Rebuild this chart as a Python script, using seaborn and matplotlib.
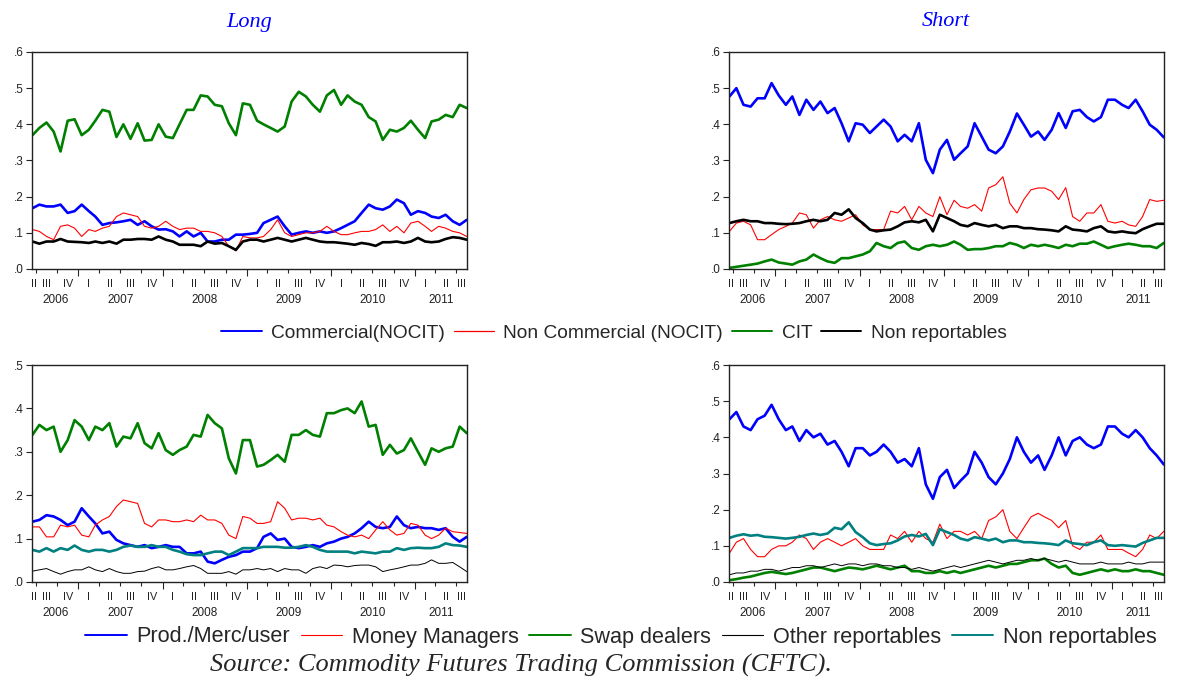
import numpy as np
import pandas as pd
import seaborn as sns
import matplotlib.pyplot as plt
import matplotlib.dates as mdates
from matplotlib.lines import Line2D
from matplotlib.ticker import FuncFormatter

sns.set_style('white')
plt.rcParams['font.family'] = ['Liberation Sans', 'DejaVu Sans']

# monthly readings, Jun 2006 .. Aug 2011
dates = pd.date_range('2006-06-01', '2011-08-01', freq='MS') + pd.Timedelta(days=14)

# top-left: long positions (commercial / non commercial / CIT)
tl_comm = [.168, .178, .173, .173, .178, .155, .16,
           .178, .16, .145, .122, .127, .129, .132, .136, .122, .132, .118, .109,
           .11, .104, .09, .104, .09, .10, .076, .076, .081, .081, .095, .095,
           .097, .10, .127, .136, .145, .118, .095, .10, .104, .10, .104, .10,
           .104, .113, .122, .132, .155, .178, .168, .164, .173, .192, .182, .15,
           .16, .155, .145, .141, .15, .132, .122, .136]
tl_noncomm = [.109, .104, .09, .081, .118, .122, .113,
              .09, .109, .104, .113, .118, .145, .155, .15, .145, .118, .113, .118,
              .132, .118, .109, .113, .113, .104, .104, .10, .09, .063, .05, .09,
              .086, .086, .09, .109, .136, .10, .09, .095, .10, .10, .104, .118,
              .104, .095, .095, .10, .104, .104, .109, .122, .104, .118, .10, .127,
              .132, .118, .104, .118, .113, .104, .10, .09]
tl_cit = [.37, .39, .405, .38, .325, .41, .414,
          .37, .385, .41, .44, .435, .365, .40, .36, .403, .355, .357, .40,
          .366, .362, .40, .44, .44, .48, .477, .454, .45, .403, .37, .458,
          .454, .41, .40, .39, .38, .394, .463, .49, .477, .454, .435, .48,
          .495, .454, .48, .463, .454, .42, .408, .357, .385, .38, .39, .41,
          .385, .362, .408, .413, .426, .42, .454, .445]
tl_nonrep = [.076, .07, .076, .076, .083, .076, .075,
             .074, .072, .076, .072, .076, .07, .081, .081, .083, .083, .081, .09,
             .081, .076, .067, .067, .067, .063, .076, .07, .072, .063, .053, .076,
             .081, .081, .076, .081, .086, .081, .076, .081, .086, .081, .076, .074,
             .074, .072, .07, .067, .072, .069, .064, .074, .074, .076, .072, .076,
             .086, .076, .074, .076, .083, .088, .086, .081]

# top-right: short positions
tr_comm = [.477, .50, .454, .449, .472, .472, .514,
           .48, .454, .477, .426, .468, .44, .463, .431, .445, .403, .353, .403,
           .399, .376, .394, .413, .394, .353, .371, .353, .403, .302, .265, .33,
           .357, .302, .32, .339, .403, .366, .33, .32, .339, .38, .43, .399,
           .366, .38, .357, .385, .431, .39, .436, .44, .42, .408, .42, .468,
           .468, .454, .445, .468, .436, .399, .385, .364]
tr_noncomm = [.104, .127, .132, .122, .081, .081, .095,
              .109, .118, .127, .155, .15, .113, .136, .145, .136, .132, .141, .15,
              .122, .109, .109, .109, .16, .155, .173, .136, .173, .155, .145, .20,
              .15, .19, .173, .168, .178, .16, .224, .233, .255, .182, .155, .192,
              .219, .224, .224, .215, .192, .225, .145, .132, .155, .155, .178, .132,
              .127, .132, .122, .118, .145, .192, .187, .19]
tr_cit = [.003, .006, .009, .012, .015, .021, .026,
          .018, .015, .012, .021, .026, .04, .03, .021, .017, .03, .03, .035,
          .04, .049, .072, .063, .058, .072, .076, .058, .053, .063, .067, .063,
          .067, .076, .067, .053, .055, .055, .058, .063, .063, .072, .067, .058,
          .067, .063, .067, .063, .058, .067, .063, .07, .07, .076, .067, .058,
          .063, .067, .07, .067, .063, .063, .058, .072]
tr_nonrep = [.127, .132, .136, .132, .132, .127, .127,
             .125, .124, .125, .127, .132, .136, .132, .136, .155, .15, .165, .141,
             .127, .109, .104, .107, .109, .118, .129, .132, .129, .136, .104, .15,
             .141, .132, .122, .118, .127, .122, .118, .122, .113, .118, .118, .113,
             .113, .11, .109, .107, .104, .118, .109, .107, .104, .113, .118, .104,
             .101, .104, .101, .099, .11, .118, .125, .125]

# bottom-left: long positions, disaggregated
bl_prod = [.139, .143, .154, .151, .143, .131, .139,
           .17, .151, .135, .112, .116, .097, .089, .085, .081, .085, .078, .081,
           .085, .081, .081, .066, .066, .07, .047, .043, .051, .058, .062, .07,
           .07, .078, .104, .112, .097, .10, .081, .078, .081, .085, .081, .089,
           .093, .10, .104, .112, .124, .139, .127, .124, .127, .151, .131, .124,
           .127, .124, .124, .12, .124, .104, .093, .104]
bl_mm = [.127, .127, .104, .104, .131, .127, .131,
         .108, .104, .131, .143, .151, .174, .189, .185, .181, .135, .127, .143,
         .143, .139, .139, .143, .139, .154, .143, .143, .135, .108, .10, .151,
         .147, .135, .135, .139, .185, .17, .143, .147, .147, .143, .147, .131,
         .127, .116, .108, .104, .108, .10, .12, .139, .12, .108, .112, .135,
         .131, .108, .10, .108, .124, .116, .114, .112]
bl_swap = [.339, .362, .35, .358, .30, .327, .373,
           .358, .327, .358, .35, .366, .312, .335, .331, .366, .32, .308, .343,
           .304, .293, .304, .312, .339, .335, .385, .366, .354, .285, .25, .327,
           .327, .266, .27, .281, .293, .277, .339, .339, .35, .339, .335, .389,
           .389, .396, .40, .389, .416, .358, .362, .293, .316, .296, .304, .331,
           .30, .27, .308, .30, .308, .312, .358, .343]
bl_other = [.025, .028, .031, .024, .018, .024, .028,
            .028, .035, .028, .024, .031, .024, .02, .02, .024, .025, .031, .035,
            .028, .028, .031, .035, .038, .031, .02, .02, .02, .024, .018, .028,
            .028, .031, .028, .031, .024, .031, .028, .028, .02, .031, .035, .031,
            .039, .038, .035, .038, .039, .039, .035, .024, .028, .031, .035, .039,
            .039, .043, .051, .043, .043, .045, .035, .024]
bl_nonrep = [.074, .07, .078, .07, .078, .074, .084,
             .074, .07, .074, .074, .07, .074, .081, .084, .081, .081, .085, .081,
             .081, .074, .07, .064, .062, .062, .066, .07, .07, .062, .07, .078,
             .078, .078, .081, .081, .081, .079, .079, .081, .085, .081, .074, .07,
             .07, .07, .07, .066, .07, .068, .066, .07, .07, .078, .074, .078,
             .079, .078, .078, .081, .089, .085, .084, .081]

# bottom-right: short positions, disaggregated
br_prod = [.45, .47, .43, .42, .45, .46, .49,
           .45, .42, .43, .39, .42, .40, .41, .38, .39, .36, .32, .37,
           .37, .35, .36, .38, .36, .33, .34, .32, .37, .27, .23, .29,
           .31, .26, .28, .30, .36, .33, .29, .27, .30, .34, .40, .36,
           .33, .35, .31, .35, .40, .35, .39, .40, .38, .37, .38, .43,
           .43, .41, .40, .42, .40, .37, .35, .325]
br_mm = [.08, .11, .12, .09, .07, .07, .09,
         .10, .10, .11, .13, .12, .09, .11, .12, .11, .10, .11, .12,
         .10, .09, .09, .09, .13, .12, .14, .11, .14, .12, .11, .16,
         .12, .14, .14, .13, .14, .12, .17, .18, .20, .14, .12, .15,
         .18, .19, .18, .17, .15, .17, .10, .09, .11, .11, .13, .09,
         .09, .09, .08, .07, .09, .13, .12, .14]
br_swap = [.005, .008, .012, .015, .02, .025, .028,
           .025, .022, .025, .03, .035, .04, .04, .035, .03, .035, .04, .038,
           .035, .04, .045, .04, .035, .04, .045, .03, .03, .025, .025, .03,
           .025, .03, .025, .03, .035, .04, .045, .04, .045, .05, .05, .055,
           .06, .06, .065, .05, .04, .045, .025, .02, .025, .03, .035, .03,
           .035, .03, .03, .035, .03, .03, .025, .02]
br_other = [.02, .025, .025, .03, .03, .035, .035,
            .03, .035, .04, .04, .045, .045, .04, .045, .05, .045, .05, .05,
            .045, .05, .05, .045, .045, .04, .04, .035, .04, .035, .03, .035,
            .04, .045, .04, .045, .05, .055, .06, .055, .05, .055, .06, .06,
            .065, .06, .065, .06, .055, .06, .055, .05, .05, .05, .055, .05,
            .05, .05, .055, .05, .05, .055, .055, .055]
br_nonrep = [.122, .128, .132, .128, .13, .125, .124,
             .122, .12, .122, .125, .13, .134, .13, .134, .15, .146, .165, .138,
             .124, .107, .102, .105, .107, .115, .126, .13, .126, .133, .102, .146,
             .138, .13, .12, .115, .124, .12, .115, .12, .11, .115, .115, .11,
             .11, .108, .107, .105, .102, .115, .107, .105, .102, .11, .115, .102,
             .1, .102, .1, .098, .108, .115, .122, .122]

top_names = ['Commercial(NOCIT)', 'Non Commercial (NOCIT)', 'CIT', 'Non reportables']
bot_names = ['Prod./Merc/user', 'Money Managers', 'Swap dealers',
             'Other reportables', 'Non reportables']
top_colors = ['#0000ff', '#ff0000', '#008000', '#000000']
bot_colors = ['#0000ff', '#ff0000', '#008000', '#000000', '#008080']
top_widths = [1.9, 0.8, 1.9, 1.9]
bot_widths = [1.9, 0.8, 1.9, 0.7, 1.9]

xmin = pd.Timestamp('2006-06-13')
xmax = pd.Timestamp('2011-08-16')
W, H = 1177, 680
fig = plt.figure(figsize=(W / 100, H / 100), dpi=100)


def panel(rect, names, colors, widths, values, ymax):
    ax = fig.add_axes([rect[0] / W, 1 - rect[3] / H,
                       (rect[2] - rect[0]) / W, (rect[3] - rect[1]) / H])
    df = pd.concat([pd.DataFrame({'date': dates, 'value': v, 'series': n})
                    for n, v in zip(names, values)])
    sns.lineplot(data=df, x='date', y='value', hue='series', size='series',
                 hue_order=names, size_order=names,
                 palette=dict(zip(names, colors)), sizes=dict(zip(names, widths)),
                 estimator=None, legend=False, ax=ax)
    ax.set_xlim(xmin, xmax)
    ax.set_ylim(0, ymax)
    ax.set_xlabel('')
    ax.set_ylabel('')
    ax.set_yticks(np.round(np.arange(0, ymax + 0.001, 0.1), 1))
    ax.yaxis.set_major_formatter(FuncFormatter(lambda v, p: f'{v:.1f}'.replace('0.', '.', 1)))
    years = pd.date_range('2007-01-01', '2011-01-01', freq='YS')
    quarters = pd.date_range('2006-07-01', '2011-07-01', freq='QS')
    ax.set_xticks(years)
    ax.set_xticks(quarters, minor=True)
    ax.tick_params(axis='x', which='major', length=5, width=0.8, direction='out',
                   bottom=True, labelbottom=False)
    ax.tick_params(axis='x', which='minor', length=3, width=0.8, direction='out',
                   bottom=True, labelbottom=False)
    ax.tick_params(axis='y', length=4, width=0.8, direction='out', left=True,
                   labelsize=8.5, pad=2, colors='#222222')
    for s in ax.spines.values():
        s.set_color('#222222')
        s.set_linewidth(1.0)
    roman = ['I', 'II', 'III', 'IV']
    for qs in pd.date_range('2006-04-01', '2011-07-01', freq='QS'):
        qe = qs + pd.offsets.QuarterBegin(startingMonth=1)
        a, b = max(qs, xmin), min(qe, xmax)
        c = mdates.date2num(a) + (mdates.date2num(b) - mdates.date2num(a)) / 2
        ax.annotate(roman[(qs.month - 1) // 3], xy=(c, 0), xycoords=ax.get_xaxis_transform(),
                    xytext=(0, -11), textcoords='offset points', ha='center', va='center',
                    fontsize=7.8, color='#222222', annotation_clip=False)
    for y in range(2006, 2012):
        a = max(pd.Timestamp(f'{y}-01-01'), xmin)
        b = min(pd.Timestamp(f'{y + 1}-01-01'), xmax)
        c = mdates.date2num(a) + (mdates.date2num(b) - mdates.date2num(a)) / 2
        ax.annotate(str(y), xy=(c, 0), xycoords=ax.get_xaxis_transform(),
                    xytext=(0, -22.5), textcoords='offset points', ha='center', va='center',
                    fontsize=8.5, color='#222222', annotation_clip=False)
    return ax


panel((32, 52, 467, 269), top_names, top_colors, top_widths,
      [tl_comm, tl_noncomm, tl_cit, tl_nonrep], 0.6)
panel((729, 52, 1164, 269), top_names, top_colors, top_widths,
      [tr_comm, tr_noncomm, tr_cit, tr_nonrep], 0.6)
panel((32, 365, 467, 582), bot_names, bot_colors, bot_widths,
      [bl_prod, bl_mm, bl_swap, bl_other, bl_nonrep], 0.5)
panel((729, 365, 1164, 582), bot_names, bot_colors, bot_widths,
      [br_prod, br_mm, br_swap, br_other, br_nonrep], 0.6)

serif = ['Liberation Serif', 'DejaVu Serif']
fig.text(249 / W, 1 - 22 / H, 'Long', family=serif, style='italic', color='#0000ff',
         fontsize=16, ha='center', va='center')
fig.text(946 / W, 1 - 22 / H, 'Short', family=serif, style='italic', color='#0000ff',
         fontsize=16, ha='center', va='center')

top_handles = [Line2D([], [], color=c, lw=1.4 if w > 1 else 0.9)
               for c, w in zip(top_colors, top_widths)]
fig.legend(top_handles, top_names, loc='center', bbox_to_anchor=(614 / W, 1 - 333 / H),
           ncol=4, frameon=False, fontsize=13.8, handlelength=2.1, handletextpad=0.5,
           columnspacing=0.45)
bot_handles = [Line2D([], [], color=c, lw=1.4 if w > 1 else 0.8)
               for c, w in zip(bot_colors, bot_widths)]
fig.legend(bot_handles, bot_names, loc='center', bbox_to_anchor=(621 / W, 1 - 637 / H),
           ncol=5, frameon=False, fontsize=15.6, handlelength=1.9, handletextpad=0.45,
           columnspacing=0.5)

fig.text(521 / W, 1 - 665 / H, 'Source: Commodity Futures Trading Commission (CFTC).',
         family=serif, style='italic', fontsize=19, ha='center', va='center')

fig.savefig('out.png', dpi=100)
